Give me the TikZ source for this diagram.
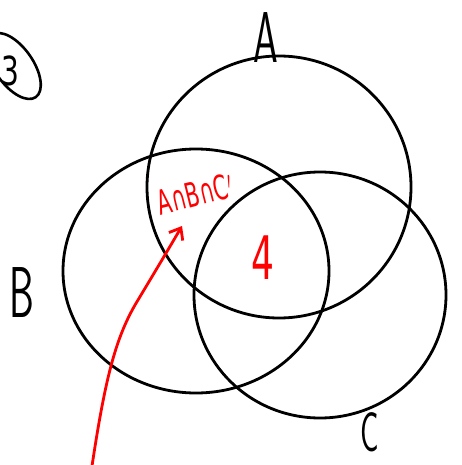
\documentclass[tikz,border=0pt]{standalone}
\usepackage{fontspec}
\setmainfont{DejaVu Sans}
\usetikzlibrary{arrows.meta}
\begin{document}
\begin{tikzpicture}[x=1pt,y=-1pt,
  setline/.style={draw=black,line width=2.8pt},
  lbl/.style={font=\fontsize{72}{72}\selectfont\sffamily, inner sep=0pt, xscale=0.55},
  redtxt/.style={red, inner sep=0pt}]
\useasboundingbox (0,0) rectangle (461,465);
\draw[setline] (279,187) ellipse [x radius=132, y radius=131];
\draw[setline] (196,271) ellipse [x radius=133, y radius=122];
\draw[setline] (320,295) ellipse [x radius=126, y radius=123];
\node[lbl] (A) at (266,38) {A};
\node[lbl] (B) at (22,293) {B};
\node[lbl, font=\fontsize{56}{56}\selectfont\sffamily] (C) at (370,432) {C};
\node[redtxt, rotate=14, xscale=0.6, font=\fontsize{34}{34}\selectfont] (int) at (195,194) {A∩B∩C$'$};
\node[redtxt, xscale=0.6, font=\fontsize{60}{60}\selectfont] (four) at (263,258) {4};
\node[inner sep=0pt, xscale=0.7, font=\fontsize{40}{40}\selectfont] (three) at (10,71) {3};
\draw[black, line width=2.6pt, rotate around={-55:(14,66)}] (14,66) ellipse [x radius=38, y radius=19];
\coordinate (tail) at (92,466);
\coordinate (tip) at (182,226);
\draw[red, line width=2.8pt, -{Straight Barb[length=10pt,width=16pt]}] (tail) .. controls (105,380) and (115,340) .. (135,305) .. controls (150,280) and (168,250) .. (tip);
\end{tikzpicture}
\end{document}
